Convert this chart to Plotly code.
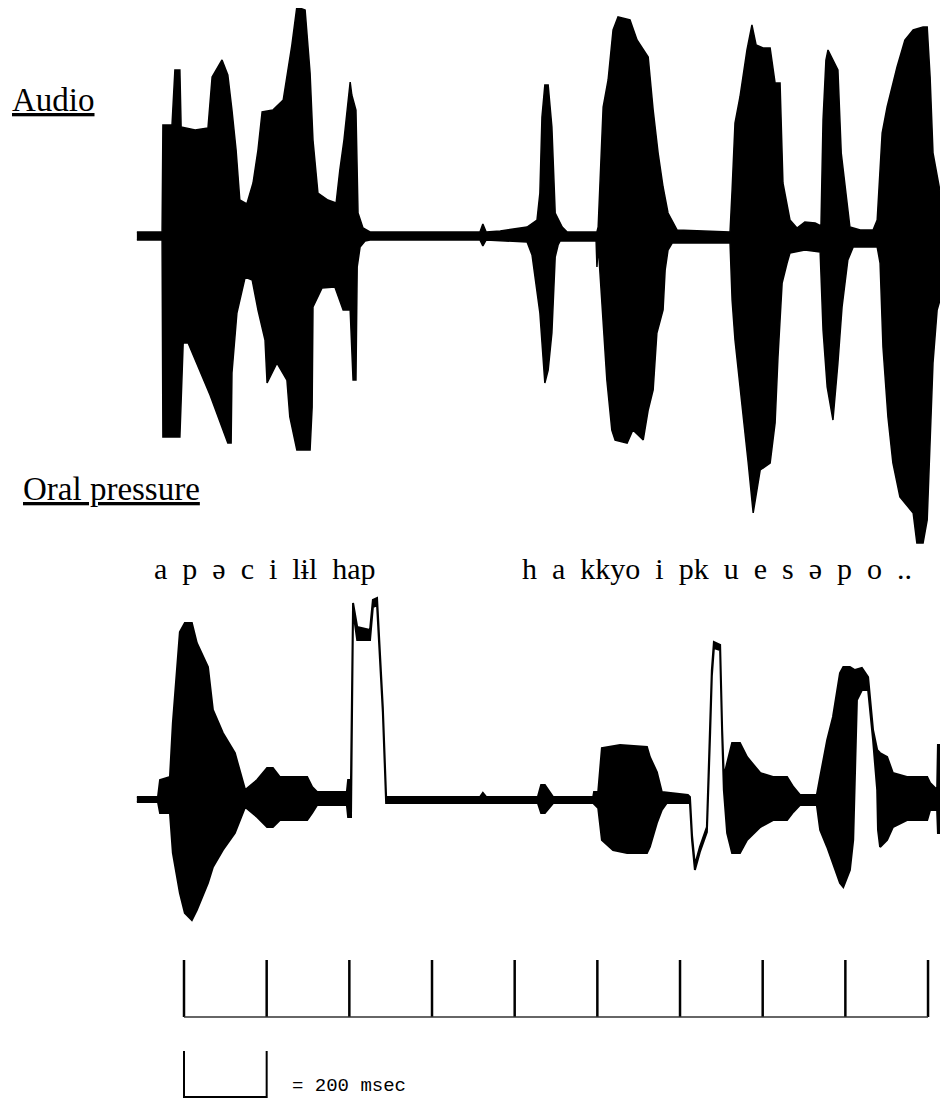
import plotly.graph_objects as go

# ---------------- data (time in ms, amplitude in arbitrary units) ----------------
# Audio envelope: upper (positive) and lower (negative) amplitude vs time
audio_up_t = [-114, -53, -51, -29, -22, -10, -7, 27, 58, 68, 92, 106, 116, 126, 135, 152, 167, 179, 189,
              215, 240, 252, 261, 273, 293, 305, 312, 324, 348, 368, 377, 387, 397, 402, 406, 416, 421,
              433, 450, 716, 723, 731, 765, 830, 854, 861, 866, 873, 881, 890, 898, 915, 927, 999, 1002,
              1014, 1026, 1038, 1050, 1079, 1096, 1123, 1135, 1147, 1159, 1171, 1193, 1321, 1326, 1333,
              1345, 1362, 1374, 1384, 1401, 1418, 1430, 1442, 1449, 1466, 1483, 1502, 1527, 1541, 1546,
              1553, 1558, 1570, 1582, 1590, 1604, 1611, 1636, 1667, 1677, 1689, 1701, 1725, 1744, 1764,
              1788, 1798, 1805, 1812, 1836, 1848]
audio_up_a = [4, 4, 111, 111, 166, 166, 109, 106, 108, 159, 176, 161, 126, 86, 36, 32, 53, 86, 124,
              126, 136, 166, 191, 229, 226, 163, 96, 43, 36, 33, 66, 96, 136, 154, 141, 126, 23,
              8, 4, 4, 12, 4, 5, 9, 16, 43, 119, 151, 151, 109, 23, 9, 4, 4, 9,
              129, 156, 206, 219, 216, 196, 179, 126, 83, 49, 23, 6, 4, 46, 113,
              139, 186, 211, 191, 188, 188, 153, 153, 53, 16, 8, 14, 13, 10, 116,
              176, 186, 176, 166, 83, 36, 9, 6, 6, 16, 103, 129, 169, 196, 206,
              209, 209, 159, 83, 29, 29]

audio_lo_t = [-114, -53, -51, -10, -2, 10, 63, 106, 114, 116, 128, 148, 165, 179, 196, 201, 225, 249,
              256, 273, 305, 310, 312, 334, 365, 385, 402, 409, 416, 419, 426, 438, 450, 716, 723, 731,
              830, 842, 861, 873, 881, 890, 898, 905, 910, 997, 999, 1002, 1014, 1023, 1035, 1043, 1072,
              1086, 1111, 1123, 1135, 1144, 1159, 1164, 1171, 1181, 1321, 1326, 1333, 1350, 1365, 1377,
              1394, 1418, 1430, 1437, 1447, 1459, 1466, 1502, 1539, 1546, 1556, 1570, 1582, 1592, 1606,
              1619, 1677, 1684, 1691, 1703, 1715, 1732, 1764, 1773, 1788, 1798, 1805, 1812, 1822, 1848]
audio_lo_a = [-4, -4, -201, -201, -107, -107, -159, -207, -207, -137, -77, -41, -44, -74, -104, -147, -127, -144,
              -181, -214, -214, -171, -71, -52, -51, -74, -74, -144, -144, -31, -11, -5, -4, -4, -10, -4,
              -6, -19, -77, -147, -134, -97, -21, -9, -5, -5, -31, -9, -84, -144, -194, -204, -207,
              -194, -204, -174, -154, -97, -74, -34, -14, -7, -7, -64, -104, -167, -227, -277,
              -234, -227, -187, -121, -47, -27, -17, -14, -16, -94, -151, -184, -127, -71, -24,
              -11, -11, -27, -111, -181, -227, -261, -277, -307, -307, -284, -201, -127, -74, -37]

# Oral pressure envelope: upper and lower amplitude vs time
press_up_t = [-114, -63, -58, -34, -27, -10, 2, 19, 31, 58, 70, 94, 123, 148, 177, 201, 215, 232, 298,
              310, 322, 394, 397, 404, 409, 419, 450, 457, 467, 481, 489, 716, 723, 731, 856, 864, 873,
              893, 990, 992, 1002, 1011, 1055, 1120, 1127, 1144, 1156, 1219, 1224, 1229, 1236, 1248,
              1265, 1273, 1277, 1282, 1297, 1302, 1306, 1314, 1326, 1345, 1362, 1394, 1425, 1459, 1474,
              1490, 1531, 1539, 1556, 1570, 1587, 1595, 1611, 1623, 1640, 1655, 1667, 1677, 1684, 1701,
              1715, 1749, 1798, 1805, 1822, 1824, 1848]
press_up_a = [3, 3, 20, 23, 77, 168, 177, 177, 157, 133, 90, 67, 47, 10, 20, 32, 32, 23, 23,
              13, 8, 8, 20, 20, 197, 173, 170, 200, 202, 93, 3, 3, 7, 3, 3, 15, 15,
              3, 3, 8, 8, 52, 55, 53, 43, 28, 8, 5, 3, -35, -65, -47,
              -27, 73, 130, 158, 155, 70, 23, 37, 57, 57, 43, 27, 23, 23, 13,
              5, 5, 23, 60, 83, 127, 133, 133, 130, 132, 123, 70, 50, 47, 43,
              27, 23, 23, 17, 10, 55, 55]

press_lo_t = [-114, -63, -58, -34, -27, -10, 2, 19, 31, 58, 70, 94, 123, 148, 177, 201, 215, 232, 298,
              310, 322, 394, 397, 404, 409, 419, 450, 457, 467, 481, 489, 716, 723, 856, 864, 873,
              893, 990, 1002, 1011, 1038, 1072, 1120, 1127, 1144, 1156, 1168, 1219, 1224, 1229, 1236,
              1248, 1265, 1273, 1277, 1282, 1297, 1302, 1306, 1314, 1326, 1345, 1362, 1394, 1425, 1459,
              1474, 1490, 1531, 1539, 1556, 1570, 1587, 1595, 1611, 1619, 1628, 1640, 1655, 1667, 1677,
              1679, 1684, 1701, 1715, 1749, 1798, 1805, 1822, 1824, 1848]
press_lo_a = [-2, -2, -13, -13, -53, -93, -113, -120, -110, -83, -67, -50, -33, -7, -17, -27, -27, -20, -20,
              -13, -5, -5, -17, -17, 190, 160, 160, 193, 195, 88, -3, -3, -3, -3, -13, -13,
              -3, -3, -8, -40, -50, -53, -53, -47, -23, -10, -3, -3, -3, -40, -70,
              -52, -32, 68, 124, 152, 150, 65, 10, -33, -53, -53, -40, -27, -20, -20,
              -12, -5, -5, -30, -47, -63, -83, -87, -70, -40, 100, 110, 110, 60, 10,
              -30, -47, -40, -27, -20, -20, -10, -10, -33, -33]

# Time scale
tick_ms = [0, 200, 400, 600, 800, 1000, 1200, 1400, 1600, 1800]
scale_ms = [0, 200]

# Text
audio_label = "Audio"
pressure_label = "Oral pressure"
phon_1 = "a  p  ə  c  i  lɨl  hap"
phon_2 = "h  a  kkyo  i  pk  u  e  s  ə  p  o  .."
scale_label = "= 200 msec"

# ---------------- figure ----------------
W, H = 948, 1101
OFF = 8  # page body margin: figure pixel (0,0) lands at screen (8,8)
SERIF = "Liberation Serif, Times New Roman, DejaVu Serif, serif"


def nb(s):
    return s.replace(" ", "\u00a0")


def env_polygon(t_up, a_up, t_lo, a_lo):
    return list(t_up) + list(t_lo)[::-1], list(a_up) + list(a_lo)[::-1]


def px(p):  # screen x pixel -> paper
    return (p - OFF) / W


def py(p):  # screen y pixel -> paper
    return 1 - (p - OFF) / H


fig = go.Figure()

xa, ya = env_polygon(audio_up_t, audio_up_a, audio_lo_t, audio_lo_a)
fig.add_trace(go.Scatter(x=xa, y=ya, mode="lines", fill="toself", fillcolor="black",
                         line=dict(color="black", width=1.5), yaxis="y", hoverinfo="skip"))

xp, yp = env_polygon(press_up_t, press_up_a, press_lo_t, press_lo_a)
fig.add_trace(go.Scatter(x=xp, y=yp, mode="lines", fill="toself", fillcolor="black",
                         line=dict(color="black", width=2), yaxis="y2", hoverinfo="skip"))

shapes = []
for t in tick_ms:
    shapes.append(dict(type="line", xref="x", yref="paper", x0=t, x1=t, y0=py(1017), y1=py(960),
                       line=dict(color="black", width=2.5)))
shapes.append(dict(type="line", xref="x", yref="paper", x0=tick_ms[0], x1=tick_ms[-1],
                   y0=py(1017), y1=py(1017), line=dict(color="#333333", width=1.5)))
# scale bracket
shapes.append(dict(type="path", xref="x", yref="paper",
                   path=(f"M {scale_ms[0]},{py(1051)} L {scale_ms[0]},{py(1097)} "
                         f"L {scale_ms[1]},{py(1097)} L {scale_ms[1]},{py(1051)}"),
                   line=dict(color="black", width=2)))

annotations = [
    dict(text=f"<u>{audio_label}</u>", xref="paper", yref="paper", x=px(10), y=py(100),
         xanchor="left", yanchor="middle", showarrow=False, font=dict(family=SERIF, size=33, color="black")),
    dict(text=f"<u>{nb(pressure_label)}</u>", xref="paper", yref="paper", x=px(21), y=py(489),
         xanchor="left", yanchor="middle", showarrow=False, font=dict(family=SERIF, size=33, color="black")),
    dict(text=nb(phon_1), xref="paper", yref="paper", x=px(152), y=py(568),
         xanchor="left", yanchor="middle", showarrow=False, font=dict(family=SERIF, size=30, color="black")),
    dict(text=nb(phon_2), xref="paper", yref="paper", x=px(520), y=py(568),
         xanchor="left", yanchor="middle", showarrow=False, font=dict(family=SERIF, size=30, color="black")),
    dict(text=nb(scale_label), xref="paper", yref="paper", x=px(290), y=py(1086),
         xanchor="left", yanchor="middle", showarrow=False,
         font=dict(family="Liberation Mono, DejaVu Sans Mono, monospace", size=19, color="black")),
]

PX_PER_MS = 82.67 / 200
x0_ms = (OFF - 184) / PX_PER_MS
x1_ms = (W + OFF - 184) / PX_PER_MS

fig.update_layout(
    width=W, height=H,
    margin=dict(l=0, r=0, t=0, b=0),
    paper_bgcolor="white", plot_bgcolor="white",
    showlegend=False,
    xaxis=dict(range=[x0_ms, x1_ms], visible=False, fixedrange=True),
    yaxis=dict(range=[236 - (H + OFF), 236 - OFF], visible=False, domain=[0, 1]),
    yaxis2=dict(range=[800 - (H + OFF), 800 - OFF], visible=False, overlaying="y"),
    shapes=shapes,
    annotations=annotations,
)

fig.write_html("out.html")
